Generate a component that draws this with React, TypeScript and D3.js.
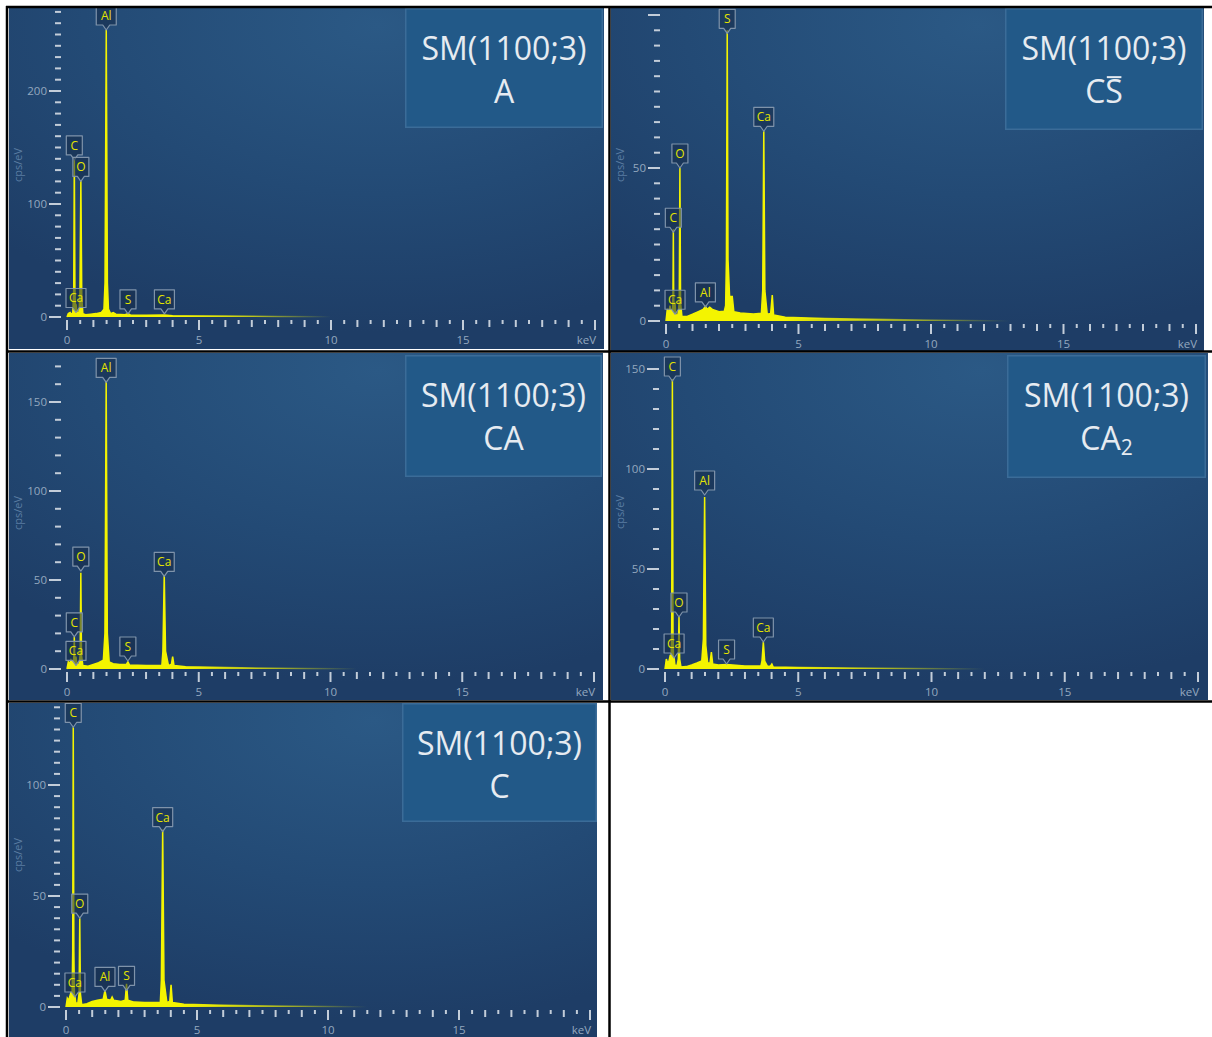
import React from "react";
import * as d3 from "d3";

type Pt = [number, number];
type PeakLabel = { el: string; e: number; v: number };

// ---------- text ----------
const sampleName = "SM(1100;3)";
const xTickLabels = ["0", "5", "10", "15"];
const xUnitLabel = "keV";
const yAxisTitle = "cps/eV";

// ---------- spectra (keV, cps/eV) ----------
const spectrumA: Pt[] = [
  [0, 0], [0.05, 3], [0.12, 4], [0.18, 2], [0.22, 4], [0.255, 25], [0.277, 141], [0.3, 25], [0.32, 9],
  [0.35, 10], [0.38, 4], [0.45, 3], [0.49, 20], [0.525, 121], [0.56, 18], [0.6, 3], [0.7, 2], [0.9, 2.5],
  [1.1, 3], [1.3, 4], [1.4, 7], [1.44, 30], [1.487, 254], [1.53, 30], [1.57, 7], [1.65, 3], [1.75, 4],
  [1.85, 2.5], [2.2, 2], [2.31, 3], [2.4, 1.8], [3, 1.5], [3.69, 1.8], [4, 1.2], [6, 0.8], [8, 0.4],
  [10, 0.2], [20, 0],
];
const peaksA: PeakLabel[] = [
  { el: "Al", e: 1.487, v: 254 }, { el: "C", e: 0.277, v: 139 }, { el: "O", e: 0.525, v: 120 },
  { el: "Ca", e: 0.341, v: 4 }, { el: "S", e: 2.31, v: 2.7 }, { el: "Ca", e: 3.69, v: 2.7 },
];

const spectrumCS: Pt[] = [
  [0, 0], [0.05, 4], [0.1, 2], [0.15, 5], [0.2, 2.5], [0.25, 4], [0.262, 8], [0.277, 30], [0.29, 8],
  [0.31, 3], [0.34, 6], [0.37, 2], [0.45, 2], [0.5, 6], [0.525, 50], [0.55, 6], [0.6, 1.5], [0.8, 1.5],
  [1.0, 2.2], [1.2, 3], [1.4, 3.8], [1.49, 4.8], [1.55, 3.8], [1.65, 4.5], [1.75, 3.8], [2.0, 3],
  [2.2, 3.2], [2.25, 5], [2.28, 20], [2.31, 95], [2.34, 20], [2.4, 8], [2.5, 8], [2.56, 3], [2.8, 2.6],
  [3.3, 2.3], [3.6, 2.5], [3.65, 10], [3.69, 62], [3.73, 10], [3.82, 2.2], [3.95, 2.5], [4.01, 8.5],
  [4.06, 2], [4.5, 1.2], [6, 0.8], [9, 0.4], [13, 0], [20, 0],
];
const peaksCS: PeakLabel[] = [
  { el: "S", e: 2.31, v: 94 }, { el: "Ca", e: 3.69, v: 62 }, { el: "O", e: 0.525, v: 50 },
  { el: "C", e: 0.277, v: 29 }, { el: "Ca", e: 0.341, v: 2.2 }, { el: "Al", e: 1.487, v: 4.6 },
];

const spectrumCA: Pt[] = [
  [0, 0], [0.05, 4], [0.1, 3], [0.15, 5], [0.2, 3], [0.25, 5], [0.262, 8], [0.277, 18], [0.29, 8],
  [0.31, 4], [0.34, 7], [0.37, 3], [0.45, 2], [0.5, 8], [0.525, 54], [0.55, 8], [0.6, 2], [0.8, 1.5],
  [1.0, 2.5], [1.2, 3.5], [1.38, 5], [1.44, 20], [1.487, 162], [1.53, 20], [1.6, 4], [1.75, 3],
  [2.0, 2.5], [2.25, 2.5], [2.31, 4], [2.37, 2.3], [3.0, 2], [3.6, 2], [3.64, 10], [3.69, 53],
  [3.74, 10], [3.85, 2], [3.96, 2.5], [4.01, 7], [4.06, 2], [4.5, 1.2], [6, 0.8], [9, 0.3], [12, 0],
  [20, 0],
];
const peaksCA: PeakLabel[] = [
  { el: "Al", e: 1.487, v: 161 }, { el: "O", e: 0.525, v: 55 }, { el: "Ca", e: 3.69, v: 52 },
  { el: "C", e: 0.277, v: 18 }, { el: "Ca", e: 0.341, v: 2 }, { el: "S", e: 2.31, v: 4.5 },
];

const spectrumCA2: Pt[] = [
  [0, 0], [0.05, 5], [0.1, 3], [0.15, 4], [0.2, 7], [0.23, 4], [0.25, 20], [0.277, 145], [0.3, 20],
  [0.32, 5], [0.34, 6], [0.37, 2], [0.45, 1.5], [0.5, 5], [0.525, 26], [0.55, 5], [0.6, 1], [0.8, 1.2],
  [1.0, 2], [1.2, 3], [1.38, 4], [1.44, 15], [1.487, 86], [1.53, 12], [1.6, 3], [1.69, 3], [1.74, 8.5],
  [1.79, 2.5], [2.0, 2], [2.31, 2.2], [3.0, 1.5], [3.6, 1.5], [3.64, 4], [3.69, 13.5], [3.74, 4],
  [3.85, 1.2], [3.96, 1.5], [4.01, 2.5], [4.06, 1], [5, 0.8], [8, 0.4], [12, 0], [20, 0],
];
const peaksCA2: PeakLabel[] = [
  { el: "C", e: 0.277, v: 144 }, { el: "Al", e: 1.487, v: 87 }, { el: "O", e: 0.525, v: 26 },
  { el: "Ca", e: 3.69, v: 13.5 }, { el: "S", e: 2.31, v: 2.5 }, { el: "Ca", e: 0.341, v: 5.5 },
];

const spectrumC: Pt[] = [
  [0, 0], [0.05, 4], [0.1, 3], [0.15, 5], [0.2, 7], [0.23, 3], [0.255, 25], [0.277, 126], [0.3, 25],
  [0.32, 6], [0.34, 5], [0.37, 2], [0.45, 1.5], [0.5, 6], [0.525, 40], [0.55, 6], [0.6, 1], [0.8, 1.5],
  [1.0, 2.5], [1.2, 3], [1.42, 3.5], [1.487, 7.5], [1.55, 3.5], [1.7, 3], [1.76, 4.5], [1.82, 3],
  [2.1, 2.5], [2.26, 3], [2.31, 10.5], [2.36, 3], [2.6, 2.2], [3.0, 2], [3.6, 2], [3.64, 12],
  [3.69, 80], [3.74, 12], [3.85, 2], [3.96, 2.5], [4.01, 10], [4.06, 2], [4.5, 1.2], [6, 0.8],
  [9, 0.3], [12, 0], [20, 0],
];
const peaksC: PeakLabel[] = [
  { el: "C", e: 0.277, v: 126 }, { el: "O", e: 0.525, v: 40 }, { el: "Ca", e: 3.69, v: 79 },
  { el: "Al", e: 1.487, v: 7 }, { el: "S", e: 2.31, v: 7.5 }, { el: "Ca", e: 0.341, v: 4.5 },
];

// ---------- layout ----------
type Panel = {
  id: string;
  sub: string;
  spectrum: Pt[];
  peaks: PeakLabel[];
  cell: { x: number; y: number; w: number; h: number };
  x0: number; x20: number; y0: number; ppu: number;
  yMax: number; yMinor: number; yMajor: number;
  box: { x: number; y: number; w: number; h: number };
  fadeEnd: number; titleY: number;
};

const panels: Panel[] = [
  { id: "A", sub: "A", spectrum: spectrumA, peaks: peaksA, cell: { x: 9, y: 8, w: 595, h: 341 },
    x0: 67, x20: 595, y0: 317, ppu: 1.13, yMax: 270, yMinor: 10, yMajor: 100,
    box: { x: 405, y: 8, w: 198, h: 120 }, fadeEnd: 10, titleY: 165 },
  { id: "CS", sub: "CS", spectrum: spectrumCS, peaks: peaksCS, cell: { x: 611, y: 8, w: 593, h: 343 },
    x0: 666, x20: 1196, y0: 321, ppu: 3.06, yMax: 100, yMinor: 5, yMajor: 50,
    box: { x: 1005, y: 8, w: 198, h: 122 }, fadeEnd: 13, titleY: 165 },
  { id: "CA", sub: "CA", spectrum: spectrumCA, peaks: peaksCA, cell: { x: 9, y: 353, w: 594, h: 347 },
    x0: 67, x20: 594, y0: 669, ppu: 1.78, yMax: 170, yMinor: 10, yMajor: 50,
    box: { x: 405, y: 355, w: 197, h: 122 }, fadeEnd: 11, titleY: 513 },
  { id: "CA2", sub: "CA2", spectrum: spectrumCA2, peaks: peaksCA2, cell: { x: 611, y: 353, w: 597, h: 347 },
    x0: 665, x20: 1198, y0: 669, ppu: 2.0, yMax: 150, yMinor: 10, yMajor: 50,
    box: { x: 1007, y: 355, w: 199, h: 123 }, fadeEnd: 12, titleY: 512 },
  { id: "C", sub: "C", spectrum: spectrumC, peaks: peaksC, cell: { x: 9, y: 703, w: 588, h: 334 },
    x0: 66, x20: 590, y0: 1007, ppu: 2.22, yMax: 135, yMinor: 5, yMajor: 50,
    box: { x: 402, y: 703, w: 195, h: 119 }, fadeEnd: 11.5, titleY: 855 },
];

const FONT = "'Open Sans', 'Noto Sans', sans-serif";
const YELLOW = "#f4f400";
const TITLE_SIZE = 32;
const TITLE_FILL = "#e6ebf1";

function SubTitle({ sub, cx, y }: { sub: string; cx: number; y: number }) {
  if (sub === "CS") {
    // "C" + "S" with a bar over the S
    const wC = 0.632 * TITLE_SIZE;
    const wS = 0.549 * TITLE_SIZE;
    const start = cx - (wC + wS) / 2;
    const sL = start + wC;
    const capTop = y - 0.714 * TITLE_SIZE;
    return (
      <g>
        <text x={cx} y={y} textAnchor="middle" fontSize={TITLE_SIZE} fill={TITLE_FILL} fontFamily={FONT}>
          CS
        </text>
        <line x1={sL + 1.5} x2={sL + wS - 1.5} y1={capTop - 3} y2={capTop - 3} stroke={TITLE_FILL} strokeWidth={2} />
      </g>
    );
  }
  if (sub === "CA2") {
    return (
      <text x={cx} y={y} textAnchor="middle" fontSize={TITLE_SIZE} fill={TITLE_FILL} fontFamily={FONT}>
        <tspan>CA</tspan>
        <tspan fontSize={21} dy={5}>2</tspan>
      </text>
    );
  }
  return (
    <text x={cx} y={y} textAnchor="middle" fontSize={TITLE_SIZE} fill={TITLE_FILL} fontFamily={FONT}>
      {sub}
    </text>
  );
}

function PanelView({ p }: { p: Panel }) {
  const x = d3.scaleLinear().domain([0, 20]).range([p.x0, p.x20]);
  const y = d3.scaleLinear().domain([0, 1]).range([p.y0, p.y0 - p.ppu]);
  const area = d3.area<Pt>().x((d) => x(d[0])).y0(y(0)).y1((d) => y(d[1]));
  const line = d3.line<Pt>().x((d) => x(d[0])).y((d) => y(d[1]));
  const xt = x.ticks(40);
  const yt = d3.range(0, p.yMax + 0.001, p.yMinor);
  const gid = `fade-${p.id}`;
  const cid = `clip-${p.id}`;
  const c = p.cell;
  return (
    <g>
      <defs>
        <clipPath id={cid}>
          <rect x={c.x} y={c.y} width={c.w} height={c.h} />
        </clipPath>
        <linearGradient id={gid} gradientUnits="userSpaceOnUse" x1={x(4.5)} x2={x(p.fadeEnd)} y1={0} y2={0}>
          <stop offset="0" stopColor={YELLOW} stopOpacity={1} />
          <stop offset="1" stopColor={YELLOW} stopOpacity={0} />
        </linearGradient>
      </defs>
      <g clipPath={`url(#${cid})`}>
        <rect x={c.x} y={c.y} width={c.w} height={c.h} fill="url(#panelBg)" />
        {/* y axis */}
        {yt.map((v) => {
          const major = Math.abs(v % p.yMajor) < 1e-6;
          const yy = y(v);
          return (
            <g key={`y${v}`}>
              <line x1={major ? p.x0 - 18 : p.x0 - 12} x2={p.x0 - 6} y1={yy} y2={yy}
                stroke="#c3cdd9" strokeWidth={2} />
              {major && yy > c.y + 14 && (
                <text x={p.x0 - 20} y={yy + 4} textAnchor="end" fontSize={11.5} fill="#94a8bf" fontFamily={FONT}>
                  {v}
                </text>
              )}
            </g>
          );
        })}
        <text transform={`translate(${c.x + 13},${p.titleY}) rotate(-90)`} textAnchor="middle"
          fontSize={11} fill="#5b7da2" fontFamily={FONT}>
          {yAxisTitle}
        </text>
        {/* x axis */}
        {xt.map((e) => {
          const five = Math.abs(e % 5) < 1e-6;
          const int = Math.abs(e % 1) < 1e-6;
          const len = five ? 10 : int ? 7 : 4;
          return (
            <line key={`x${e}`} x1={x(e)} x2={x(e)} y1={p.y0 + 3} y2={p.y0 + 3 + len}
              stroke="#c3cdd9" strokeWidth={2} />
          );
        })}
        {xTickLabels.map((t) => (
          <text key={t} x={x(+t)} y={p.y0 + 27} textAnchor="middle" fontSize={11.5} fill="#94a8bf" fontFamily={FONT}>
            {t}
          </text>
        ))}
        <text x={x(20) + 1} y={p.y0 + 27} textAnchor="end" fontSize={11.5} fill="#94a8bf" fontFamily={FONT}>
          {xUnitLabel}
        </text>
        {/* spectrum */}
        <path d={area(p.spectrum) || ""} fill={`url(#${gid})`} />
        <path d={line(p.spectrum) || ""} fill="none" stroke={`url(#${gid})`} strokeWidth={1.5} />
        {/* peak labels */}
        {p.peaks.map((pk, i) => {
          const cx = x(pk.e);
          const tip = y(pk.v);
          const w = pk.el.length === 1 ? 16 : 20;
          const bottom = tip - 5;
          const top = bottom - 19;
          const l = cx - w / 2;
          const r = cx + w / 2;
          const d = `M${l},${top}H${r}V${bottom}H${cx + 3.5}L${cx},${tip}L${cx - 3.5},${bottom}H${l}Z`;
          return (
            <g key={i}>
              <path d={d} fill="rgba(22,44,72,0.55)" stroke="#7f93aa" strokeWidth={1.2} strokeLinejoin="round" />
              <text x={cx} y={bottom - 5} textAnchor="middle" fontSize={12} fill="#e4e400" fontFamily={FONT}>
                {pk.el}
              </text>
            </g>
          );
        })}
        {/* title box */}
        <rect x={p.box.x + 0.75} y={p.box.y + 0.75} width={p.box.w - 1.5} height={p.box.h - 1.5}
          fill="#225988" stroke="#3b6c98" strokeWidth={1.5} />
        <text x={p.box.x + p.box.w / 2} y={p.box.y + 52} textAnchor="middle" fontSize={TITLE_SIZE}
          fill={TITLE_FILL} fontFamily={FONT}>
          {sampleName}
        </text>
        <SubTitle sub={p.sub} cx={p.box.x + p.box.w / 2} y={p.box.y + 95} />
      </g>
    </g>
  );
}

export default function App() {
  return (
    <div style={{ position: "absolute", left: 0, top: 0 }}>
      <svg width={1212} height={1037} style={{ display: "block", background: "#ffffff" }}>
        <defs>
          <radialGradient id="panelBg" cx="0.62" cy="0.05" r="0.9" fx="0.62" fy="0.05">
            <stop offset="0" stopColor="#2b5985" />
            <stop offset="0.55" stopColor="#234a75" />
            <stop offset="1" stopColor="#1e3d66" />
          </radialGradient>
        </defs>
        {panels.map((p) => (
          <PanelView key={p.id} p={p} />
        ))}
        {/* table rules */}
        <g stroke="#000" strokeWidth={2.5}>
          <line x1={6} x2={1212} y1={7} y2={7} />
          <line x1={7} x2={7} y1={6} y2={1037} />
          <line x1={609.5} x2={609.5} y1={6} y2={1037} />
          <line x1={6} x2={1212} y1={351.5} y2={351.5} />
          <line x1={6} x2={1212} y1={701.5} y2={701.5} />
        </g>
      </svg>
    </div>
  );
}
